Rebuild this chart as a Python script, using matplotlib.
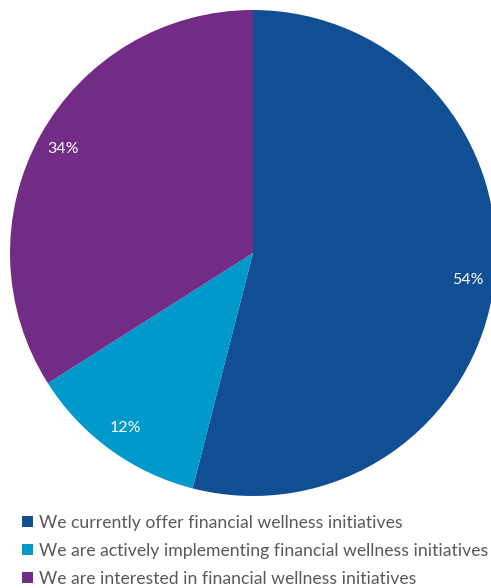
import matplotlib
matplotlib.use('Agg')
import matplotlib.pyplot as plt
from matplotlib.patches import Patch

plt.rcParams['font.family'] = ['Lato', 'DejaVu Sans']

labels = ['We currently offer financial wellness initiatives',
          'We are actively implementing financial wellness initiatives',
          'We are interested in financial wellness initiatives']
shares = [54, 12, 34]
colors = ['#114F94', '#0099CC', '#722C85']

fig = plt.figure(figsize=(4.91, 5.88), dpi=100)
# pie centre ~ (253, 253) px, radius ~243 px
ax = fig.add_axes([10 / 491, 92 / 588, 486 / 491, 486 / 588])

wedges, texts, autotexts = ax.pie(shares, colors=colors, startangle=90, counterclock=False,
                                  autopct='%d%%', pctdistance=0.89,
                                  wedgeprops=dict(linewidth=0),
                                  textprops=dict(color='white', fontsize=11.5))
ax.set_xlim(-1, 1)
ax.set_ylim(-1, 1)
ax.set_aspect('equal')
ax.axis('off')

handles = [Patch(facecolor=c, edgecolor='none') for c in colors]
fig.legend(handles, labels, loc='upper left', bbox_to_anchor=(15 / 491, 1 - 508 / 588),
           frameon=False, fontsize=12.7, handlelength=0.6, handleheight=0.6,
           handletextpad=0.35, labelspacing=0.68, labelcolor='#595959', borderaxespad=0)

fig.savefig('out.png', dpi=100)
